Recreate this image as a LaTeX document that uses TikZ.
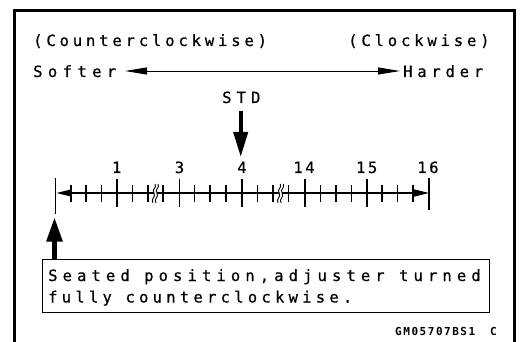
\documentclass[tikz,border=0pt]{standalone}
\usepackage{fontspec}
\newfontfamily\monof[FakeBold=0.6]{DejaVu Sans Mono}
\newfontfamily\codef{DejaVu Sans Mono Bold}
\usetikzlibrary{arrows.meta}
\newcommand\lblfont[1]{\monof\fontsize{15.5}{18}\selectfont\addfontfeature{LetterSpace=#1}}
\begin{document}
\begin{tikzpicture}[x=1pt,y=-1pt,
  txt/.style={inner sep=0pt, anchor=base west},
  num/.style={inner sep=0pt, anchor=base, font=\monof\fontsize{15.5}{18}\selectfont},
  tickline/.style={line width=1.3pt},
  thinarrow/.style={line width=0.9pt, {Triangle[length=22pt,width=7pt]}-{Triangle[length=22pt,width=7pt]}},
  axisline/.style={line width=1.3pt, {Triangle[length=15pt,width=7pt]}-{Triangle[length=15pt,width=7pt]}},
  bigarrow/.style={line width=4pt, -{Triangle[length=25pt,width=14pt]}},
  uparrowst/.style={line width=5.6pt, -{Triangle[length=25pt,width=15pt]}},
  notebox/.style={draw, line width=1pt, inner sep=0pt, anchor=north west, minimum width=446.5pt, minimum height=52pt}
]
\useasboundingbox (0,0) rectangle (520,342);
% frame
\draw[line width=2.5pt] (14.7,342) -- (14.7,10.5) -- (514.7,10.5) -- (514.7,342);

% top labels
\node[txt] (ccw) at (33,46) {\lblfont{25}(Counterclockwise)};
\node[txt] (cw) at (348,46) {\lblfont{25}(Clockwise)};
\node[txt] (soft) at (33,77) {\lblfont{35}Softer};
\node[txt] (hard) at (403,77) {\lblfont{31}Harder};
\coordinate (softtip) at (125,71);
\coordinate (hardtip) at (400,71);
\draw[thinarrow] (softtip) -- (hardtip);

% STD
\node[txt] (std) at (222,103) {\lblfont{33}STD};
\coordinate (stdtop) at (240.7,110.7);
\coordinate (stdtip) at (240.7,157);
\draw[bigarrow] (stdtop) -- (stdtip);

% scale axis
\coordinate (axl) at (56.5,193);
\coordinate (axr) at (429,193);
\draw[axisline] (axl) -- (axr);
\draw[tickline] (55.7,178) -- (55.7,214);
\draw[tickline] (429,178) -- (429,210);
\foreach \x in {71,86,101.5,132.5,148,163,194.5,210,226,257.5,273,288.5,320.5,336,351.5,382,397.5,413}
  \draw[tickline] (\x,185) -- (\x,202);
\foreach \x in {117,179.5,242,305,367}
  \draw[tickline] (\x,179) -- (\x,207);
% breaks
\foreach \c in {155.5,280.7}{
  \fill[white] (\c-1.5,190) rectangle (\c+1.5,196);
  \draw[line width=0.9pt] (\c-2.5,203) .. controls (\c-5.5,199) and (\c+1,197) .. (\c-1.5,193) .. controls (\c-4.5,189) and (\c+2,188) .. (\c-0.5,184);
  \draw[line width=0.9pt] (\c+0.5,203) .. controls (\c-2.5,199) and (\c+4,197) .. (\c+1.5,193) .. controls (\c-1.5,189) and (\c+5,188) .. (\c+2.5,184);
}
% numbers
\node[num] (n1) at (116.7,173) {1};
\node[num] (n3) at (179.5,173) {3};
\node[num] (n4) at (242,173) {4};
\node[num] (n14) at (304,173) {1\kern2.5pt 4};
\node[num] (n15) at (366.7,173) {1\kern2.5pt 5};
\node[num] (n16) at (428,173) {1\kern2.5pt 6};

% note box
\node[notebox] (note) at (42,259.5) {};
\node[txt] (l1) at (48,281) {\lblfont{33}Seated position,adjuster turned};
\node[txt] (l2) at (48,302.5) {\lblfont{27.5}fully counterclockwise.};
\coordinate (seat) at (54.5,216.7);
\draw[uparrowst] (note.north -| seat) -- (seat);

% code
\node[txt] (code) at (395,335) {\codef\fontsize{11}{13}\selectfont\addfontfeature{LetterSpace=14}GM05707BS1};
\node[txt] (codec) at (490,335) {\codef\fontsize{11}{13}\selectfont C};
\end{tikzpicture}
\end{document}
